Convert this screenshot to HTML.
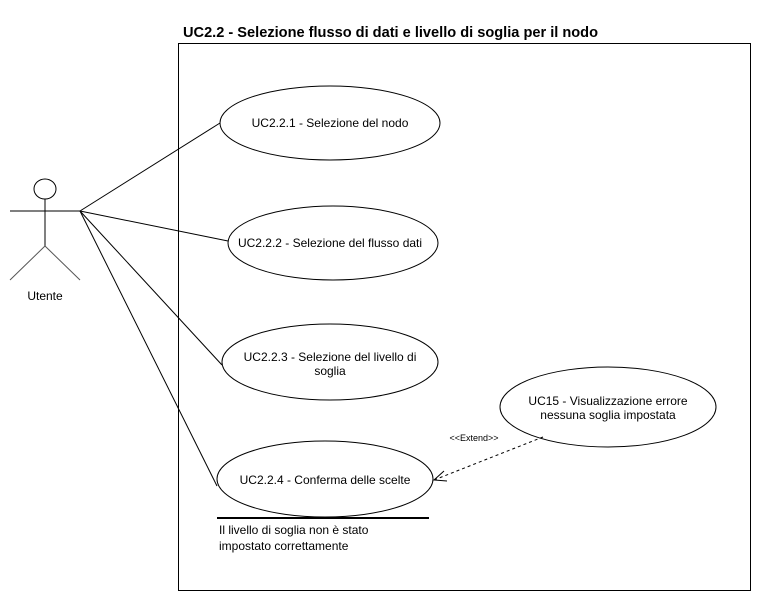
<!DOCTYPE html>
<html><head><meta charset="utf-8"><style>html,body{margin:0;padding:0;background:#fff}svg{display:block}</style></head>
<body>
<svg width="761" height="600" viewBox="0 0 761 600" xmlns="http://www.w3.org/2000/svg" font-family="Liberation Sans, Arial, sans-serif">
<rect x="0" y="0" width="761" height="600" fill="#fff"/>
<text x="183" y="37" font-size="15" font-weight="bold" textLength="415" lengthAdjust="spacingAndGlyphs">UC2.2 - Selezione flusso di dati e livello di soglia per il nodo</text>
<rect x="178.5" y="43.5" width="572" height="547" fill="none" stroke="#000" stroke-width="1"/>
<!-- actor -->
<ellipse cx="45" cy="189" rx="11" ry="10" fill="#fff" stroke="#000"/>
<line x1="10" y1="211" x2="80" y2="211" stroke="#555" stroke-width="1.5"/>
<line x1="45" y1="199" x2="45" y2="246" stroke="#000"/>
<line x1="45" y1="246" x2="10" y2="280" stroke="#555"/>
<line x1="45" y1="246" x2="80" y2="280" stroke="#555"/>
<text x="45" y="300" font-size="12" text-anchor="middle">Utente</text>
<!-- associations -->
<g stroke="#000" fill="none">
<line x1="80" y1="211" x2="220" y2="123"/>
<line x1="80" y1="211" x2="228" y2="241"/>
<line x1="80" y1="211" x2="222" y2="365"/>
<line x1="80" y1="211" x2="217" y2="486"/>
</g>
<!-- use cases -->
<g fill="#fff" stroke="#000">
<ellipse cx="330" cy="123" rx="110" ry="37"/>
<ellipse cx="333" cy="243" rx="105" ry="37"/>
<ellipse cx="330" cy="362" rx="108" ry="38"/>
<ellipse cx="325" cy="479" rx="108" ry="38"/>
<ellipse cx="608" cy="407" rx="108" ry="40"/>
</g>
<g font-size="12" text-anchor="middle">
<text x="330" y="127">UC2.2.1 - Selezione del nodo</text>
<text x="330" y="247">UC2.2.2 - Selezione del flusso dati</text>
<text x="330" y="361">UC2.2.3 - Selezione del livello di</text>
<text x="330" y="375">soglia</text>
<text x="325" y="484">UC2.2.4 - Conferma delle scelte</text>
<text x="608" y="405">UC15 - Visualizzazione errore</text>
<text x="608" y="419">nessuna soglia impostata</text>
</g>
<!-- extend -->
<line x1="543" y1="437" x2="434" y2="480" stroke="#000" stroke-dasharray="3,3"/>
<polyline points="444,471 434,480 447,481" fill="none" stroke="#000"/>
<text x="474" y="441" font-size="9" text-anchor="middle">&lt;&lt;Extend&gt;&gt;</text>
<!-- note -->
<line x1="217" y1="518" x2="429" y2="518" stroke="#000" stroke-width="2"/>
<text x="219" y="534" font-size="12">Il livello di soglia non è stato</text>
<text x="219" y="550" font-size="12">impostato correttamente</text>
</svg>
</body></html>
